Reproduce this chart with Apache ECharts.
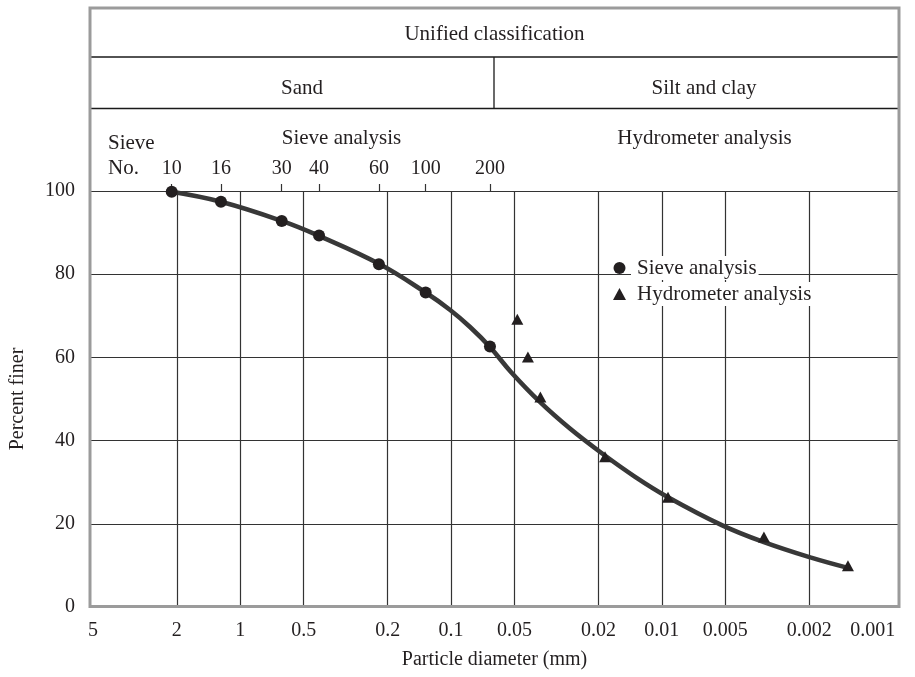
<!DOCTYPE html>
<html>
<head>
<meta charset="utf-8">
<script src="https://cdn.jsdelivr.net/npm/echarts@6/dist/echarts.min.js"></script>
<style>
  html, body { margin: 0; padding: 0; background: #fff; }
  #chart { width: 915px; height: 677px; }
</style>
</head>
<body>
<div id="chart"></div>
<script>
// Sieve analysis: sieve numbers, the particle diameters (mm) they stand for, and percent finer
const sieveNumbers = [10, 16, 30, 40, 60, 100, 200];
const sieveDiameters = [2.115, 1.235, 0.636, 0.423, 0.22, 0.132, 0.0654];
const sievePercentFiner = [99.8, 97.4, 92.8, 89.3, 82.4, 75.6, 62.6];

// Hydrometer analysis
const hydroDiameters = [0.0485, 0.0432, 0.0377, 0.0186, 0.00935, 0.00328, 0.00131];
const hydroPercentFiner = [69.2, 60.1, 50.5, 36.1, 26.4, 16.8, 9.9];

// Grain-size distribution curve drawn through the results
const curveDiameters = [2.115, 1.235, 0.636, 0.423, 0.22, 0.132, 0.101, 0.0813, 0.0654, 0.052, 0.0379, 0.0273, 0.0192, 0.0134, 0.00935, 0.0052, 0.00328, 0.00194, 0.00131];
const curvePercentFiner = [99.8, 97.4, 92.8, 89.2, 82.5, 75.6, 71.4, 67.3, 62.5, 56.5, 49.3, 42.9, 36.9, 31.3, 26.4, 19.7, 15.6, 11.8, 9.4];

// Axis ticks
const diameterLabels = [5, 2, 1, 0.5, 0.2, 0.1, 0.05, 0.02, 0.01, 0.005, 0.002, 0.001];
const diameterGridLines = [2, 1, 0.5, 0.2, 0.1, 0.05, 0.02, 0.01, 0.005, 0.002];
const diameterRange = [0.00075, 5.164];
const percentRange = [0, 100];
const percentStep = 20;

const ink = '#231f20';
const serif = '"Liberation Serif", "Times New Roman", serif';

const pairs = (xs, ys) => xs.map((x, i) => [x, ys[i]]);

function headerText(text, x, y, align) {
  return {
    type: 'text', x: x, y: y, z: 110,
    style: { text: text, fill: ink, fontSize: 21, fontFamily: serif, align: align || 'center', verticalAlign: 'middle' }
  };
}
function rule(x1, y1, x2, y2) {
  return { type: 'line', z: 105, shape: { x1, y1, x2, y2 }, style: { stroke: '#1a1a1a', lineWidth: 1.3 } };
}

const chart = echarts.init(document.getElementById('chart'), null, { renderer: 'canvas' });

chart.setOption({
  backgroundColor: '#fff',
  animation: false,
  textStyle: { fontFamily: serif, color: ink },
  grid: { left: 90, right: 16, top: 191, bottom: 70, containLabel: false },
  legend: {
    data: ['Sieve analysis', 'Hydrometer analysis'],
    orient: 'vertical',
    left: 608, top: 251,
    itemWidth: 13, itemHeight: 12, itemGap: 2,
    textStyle: { fontFamily: serif, fontSize: 21, color: ink, backgroundColor: '#fff', padding: [1, 2, 1, 6], lineHeight: 22 }
  },
  xAxis: [
    {
      type: 'log', inverse: true,
      min: diameterRange[0], max: diameterRange[1],
      name: 'Particle diameter (mm)', nameLocation: 'middle', nameGap: 43,
      nameTextStyle: { fontFamily: serif, fontSize: 20, color: ink },
      axisLine: { show: false },
      axisTick: { show: false, customValues: diameterGridLines },
      splitLine: { show: true, lineStyle: { color: '#333', width: 1.2 } },
      axisLabel: {
        customValues: diameterLabels, margin: 14,
        fontFamily: serif, fontSize: 20, color: ink,
        formatter: v => String(+v.toPrecision(6))
      }
    },
    {
      type: 'log', inverse: true, position: 'top',
      min: diameterRange[0], max: diameterRange[1],
      axisLine: { show: false },
      axisTick: { show: true, inside: false, length: 7, customValues: sieveDiameters, lineStyle: { color: '#333', width: 1.2 } },
      splitLine: { show: false },
      axisLabel: {
        customValues: sieveDiameters, margin: 12,
        fontFamily: serif, fontSize: 20, color: ink,
        formatter: v => {
          const i = sieveDiameters.findIndex(d => Math.abs(d - v) / d < 1e-6);
          return i >= 0 ? String(sieveNumbers[i]) : '';
        }
      }
    }
  ],
  yAxis: {
    type: 'value', min: percentRange[0], max: percentRange[1], interval: percentStep,
    name: 'Percent finer', nameLocation: 'middle', nameGap: 62,
    nameTextStyle: { fontFamily: serif, fontSize: 20, color: ink },
    axisLine: { show: false }, axisTick: { show: false },
    splitLine: { show: true, lineStyle: { color: '#333', width: 1.2 } },
    axisLabel: { margin: 15, fontFamily: serif, fontSize: 20, color: ink }
  },
  series: [
    {
      name: 'Curve', type: 'line', xAxisIndex: 0,
      data: pairs(curveDiameters, curvePercentFiner),
      smooth: 0.4, showSymbol: false, symbol: 'none',
      lineStyle: { color: '#383838', width: 4.6 },
      z: 3
    },
    {
      name: 'Sieve analysis', type: 'scatter', xAxisIndex: 0,
      data: pairs(sieveDiameters, sievePercentFiner),
      symbol: 'circle', symbolSize: 12,
      itemStyle: { color: ink, opacity: 1 },
      z: 5
    },
    {
      name: 'Hydrometer analysis', type: 'scatter', xAxisIndex: 0,
      data: pairs(hydroDiameters, hydroPercentFiner),
      symbol: 'triangle', symbolSize: [12, 11],
      itemStyle: { color: ink, opacity: 1 },
      z: 5
    }
  ],
  graphic: [
    rule(90, 57, 899, 57),
    rule(90, 108.5, 899, 108.5),
    rule(494, 57, 494, 108.5),
    headerText('Unified classification', 494.5, 34),
    headerText('Sand', 302, 88),
    headerText('Silt and clay', 704, 88),
    headerText('Sieve analysis', 341.5, 138),
    headerText('Hydrometer analysis', 704.5, 138),
    headerText('Sieve', 108, 143, 'left'),
    headerText('No.', 108, 168, 'left'),
    {
      type: 'rect', z: 120,
      shape: { x: 90, y: 8, width: 809, height: 598.5 },
      style: { fill: 'none', stroke: '#9b9b9b', lineWidth: 3 }
    }
  ]
});
</script>
</body>
</html>
